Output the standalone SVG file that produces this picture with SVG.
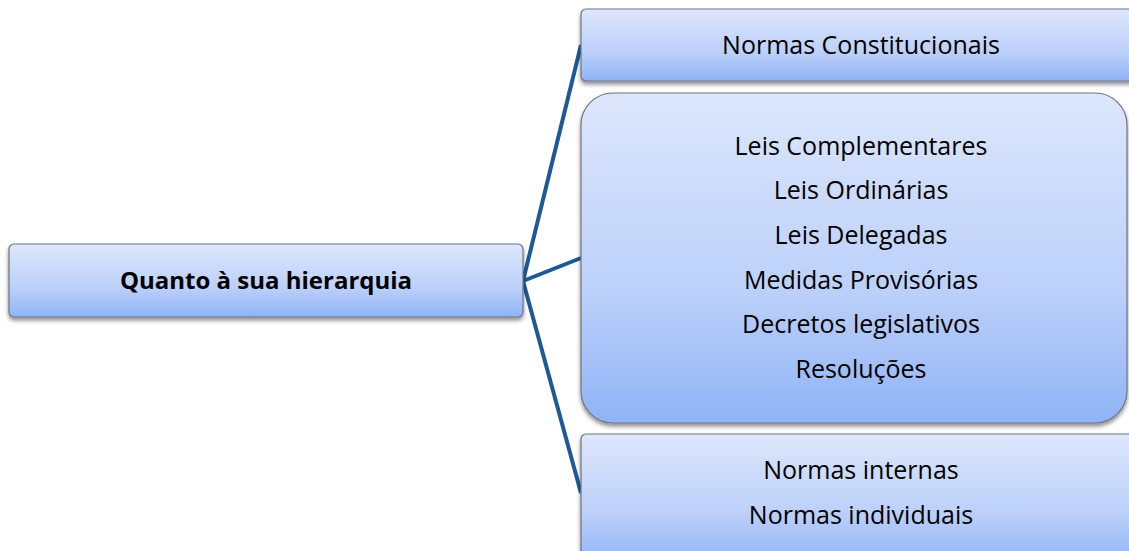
<svg xmlns="http://www.w3.org/2000/svg" width="1129" height="551" viewBox="0 0 1129 551">
<defs>
<linearGradient id="g" x1="0" y1="0" x2="0" y2="1">
<stop offset="0" stop-color="#dde7fc"/>
<stop offset="0.6" stop-color="#bcd0fa"/>
<stop offset="1" stop-color="#8fb3f6"/>
</linearGradient>
<filter id="sh" x="-5%" y="-5%" width="110%" height="120%">
<feGaussianBlur in="SourceAlpha" stdDeviation="2"/>
<feOffset dx="0" dy="3"/>
<feComponentTransfer><feFuncA type="linear" slope="0.45"/></feComponentTransfer>
<feMerge><feMergeNode/><feMergeNode in="SourceGraphic"/></feMerge>
</filter>
</defs>
<style>
.box{fill:url(#g);stroke:#6e7480;stroke-width:1.2;filter:url(#sh)}
.t{font-family:"Open Sans","Liberation Sans",sans-serif;font-size:25px;fill:#000;text-anchor:middle}
.b{font-weight:bold;font-size:24px}
.c{fill:none;stroke:#1b5a96;stroke-width:4;stroke-linecap:butt}
</style>
<g id="connectors">
<line class="c" x1="523" y1="281" x2="581" y2="45"/>
<line class="c" x1="523" y1="281" x2="581" y2="258"/>
<line class="c" x1="523" y1="281" x2="581" y2="493"/>
</g>
<g id="root">
<rect class="box" x="9" y="244" width="514" height="73" rx="5"/>
<text class="t b" x="266" y="289">Quanto à sua hierarquia</text>
</g>
<g id="n1">
<rect class="box" x="581" y="9" width="560" height="72" rx="5"/>
<text class="t" x="861" y="54">Normas Constitucionais</text>
</g>
<g id="n2">
<rect class="box" x="581" y="93" width="546" height="330" rx="32"/>
<text class="t" x="861" y="155">Leis Complementares</text>
<text class="t" x="861" y="199">Leis Ordinárias</text>
<text class="t" x="861" y="244">Leis Delegadas</text>
<text class="t" x="861" y="289">Medidas Provisórias</text>
<text class="t" x="861" y="333">Decretos legislativos</text>
<text class="t" x="861" y="378">Resoluções</text>
</g>
<g id="n3">
<rect class="box" x="581" y="434" width="560" height="130" rx="5"/>
<text class="t" x="861" y="479">Normas internas</text>
<text class="t" x="861" y="524">Normas individuais</text>
</g>
</svg>
